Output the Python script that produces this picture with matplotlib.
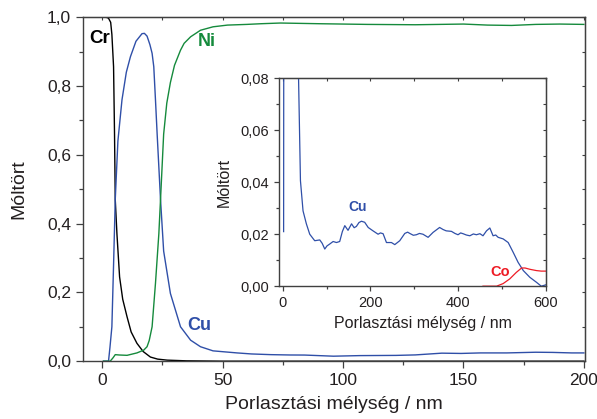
import matplotlib.pyplot as plt
from matplotlib.ticker import MultipleLocator, FuncFormatter

plt.rcParams['font.family'] = ['Liberation Sans', 'DejaVu Sans']

# main plot: depth profile 0-200 nm
cr_x = [0, 1, 2, 2.6, 3.5, 4.0, 4.7, 5.1, 5.4, 6.1, 7.2, 8.5, 10.3, 12, 14.4, 17, 20, 23, 27, 35, 50, 100, 200]
cr_y = [1.0, 1.0, 0.999, 0.997, 0.985, 0.95, 0.856, 0.66, 0.47, 0.37, 0.245, 0.18, 0.129, 0.085, 0.052,
        0.028, 0.012, 0.006, 0.003, 0.001, 0.0, 0.0, 0.0]

cu_x = [0.5, 2.6, 3.2, 4.0, 4.7, 5.4, 6.5, 8.2, 10, 11.7, 14, 16.5, 17.5, 18.6, 19.8, 20.7, 21.4, 22.1, 22.8,
        23.5, 24.2, 25.5, 28.3, 32.5, 36.7, 40.8, 46, 56, 62, 70, 78, 84, 96, 107, 122, 130, 141, 149, 157,
        168, 180, 187, 195, 200]
cu_y = [0.0, 0.0, 0.04, 0.1, 0.28, 0.47, 0.64, 0.76, 0.84, 0.885, 0.93, 0.952, 0.953, 0.945, 0.92, 0.895,
        0.856, 0.76, 0.66, 0.565, 0.47, 0.32, 0.197, 0.1, 0.061, 0.042, 0.03, 0.024, 0.021, 0.019, 0.018,
        0.0178, 0.0145, 0.0162, 0.0168, 0.0182, 0.0233, 0.0225, 0.024, 0.024, 0.026, 0.0255, 0.024, 0.024]

ni_x = [0.5, 3.3, 4.5, 5.4, 7, 10.3, 14.4, 17.2, 18.6, 19.5, 20.7, 22.1, 23.5, 24.2, 25.5, 26.8, 28.3, 30,
        32.5, 34, 36.7, 40.8, 46, 52, 60, 66, 74, 90, 110, 130, 150, 160, 170, 180, 190, 200]
ni_y = [0.0, 0.0, 0.01, 0.019, 0.018, 0.017, 0.024, 0.032, 0.042, 0.06, 0.1, 0.226, 0.37, 0.47, 0.66, 0.75,
        0.81, 0.86, 0.904, 0.924, 0.943, 0.962, 0.972, 0.977, 0.979, 0.981, 0.983, 0.981, 0.979, 0.978,
        0.980, 0.977, 0.976, 0.979, 0.980, 0.979]

# inset: 0-600 nm, low concentrations
cu_deep_x = [2, 2.3, 35, 40.4, 46.3, 53.9, 61.6, 73, 84.5, 90, 95.9, 101, 107, 115, 122.6, 130, 136, 141.6,
             149, 157, 163, 168, 174, 179.6, 187, 195, 206, 217.6, 223, 229, 236.7, 248, 255.7, 267, 278.5,
             285, 290, 298, 305, 312, 320, 331.7, 343, 358, 366, 373, 385, 393, 400, 406, 411.5, 419, 427,
             435, 442, 450, 457, 465, 472.6, 480, 486, 491.6, 503, 514.5, 526, 537, 549, 564, 579, 590, 600]
cu_deep_y = [0.021, 0.09, 0.09, 0.0406, 0.029, 0.024, 0.020, 0.0175, 0.0178, 0.0165, 0.0143, 0.0155,
             0.0162, 0.0172, 0.0168, 0.0172, 0.021, 0.0233, 0.0215, 0.024, 0.0225, 0.023, 0.0245, 0.025,
             0.0246, 0.0226, 0.0213, 0.020, 0.0205, 0.0202, 0.0168, 0.0168, 0.016, 0.0175, 0.0203, 0.0208,
             0.0203, 0.0196, 0.0198, 0.0203, 0.020, 0.0188, 0.0207, 0.0226, 0.0218, 0.0213, 0.0211, 0.0203,
             0.0198, 0.0205, 0.0202, 0.0197, 0.0194, 0.0201, 0.0198, 0.0202, 0.0194, 0.0213, 0.0224, 0.0194,
             0.0197, 0.0188, 0.0182, 0.0168, 0.013, 0.0092, 0.006, 0.0034, 0.0015, 0.0, 0.0005]

co_x = [457, 488, 503, 518, 533, 545, 553, 564, 579, 590, 600]
co_y = [0.0, 0.0, 0.001, 0.0028, 0.0053, 0.007, 0.007, 0.0065, 0.006, 0.0058, 0.0058]

txt = '#231f20'
sp = '#404040'
c_cr, c_cu, c_ni, c_co = 'black', '#2f4fa8', '#158a3c', '#ee1c25'

comma = FuncFormatter(lambda v, p: ('%.1f' % v).replace('.', ','))
comma2 = FuncFormatter(lambda v, p: ('%.2f' % v).replace('.', ','))


def style_axes(a, xmaj, xmin, ymaj, ymin, fs, lmaj, lmin):
    for s in a.spines.values():
        s.set_color(sp)
        s.set_linewidth(1.0)
    a.xaxis.set_major_locator(MultipleLocator(xmaj))
    a.xaxis.set_minor_locator(MultipleLocator(xmin))
    a.yaxis.set_major_locator(MultipleLocator(ymaj))
    a.yaxis.set_minor_locator(MultipleLocator(ymin))
    a.tick_params(which='major', direction='out', length=lmaj, width=0.9, color=sp,
                  labelsize=fs, labelcolor=txt)
    a.tick_params(which='minor', direction='out', length=lmin, width=0.9, color=sp)
    top = a.secondary_xaxis('top')
    top.xaxis.set_major_locator(MultipleLocator(xmaj))
    top.xaxis.set_minor_locator(MultipleLocator(xmin))
    top.tick_params(which='both', direction='in', length=2.5, width=0.8, color=sp, labeltop=False)
    right = a.secondary_yaxis('right')
    right.yaxis.set_major_locator(MultipleLocator(ymaj))
    right.yaxis.set_minor_locator(MultipleLocator(ymin))
    right.tick_params(which='both', direction='in', length=2.5, width=0.8, color=sp, labelright=False)


fig = plt.figure(figsize=(5.97, 4.19), dpi=100)
ax = fig.add_axes([0.139, 0.138, 0.841, 0.821])

ax.plot(cr_x, cr_y, color=c_cr, lw=1.0)
ax.plot(cu_x, cu_y, color=c_cu, lw=1.0)
ax.plot(ni_x, ni_y, color=c_ni, lw=1.0)

ax.set_xlim(-8, 200.5)
ax.set_ylim(0, 1)
style_axes(ax, 50, 25, 0.2, 0.1, 12.5, 5, 3.2)
ax.yaxis.set_major_formatter(comma)
ax.set_xlabel('Porlasztási mélység / nm', fontsize=14, color=txt, labelpad=6)
ax.set_ylabel('Móltört', fontsize=14, color=txt, labelpad=14)

ax.text(-1.2, 0.937, 'Cr', color=c_cr, fontsize=13.5, fontweight='bold', ha='center', va='center')
ax.text(43.3, 0.928, 'Ni', color=c_ni, fontsize=13, fontweight='bold', ha='center', va='center')
ax.text(40.1, 0.105, 'Cu', color=c_cu, fontsize=13, fontweight='bold', ha='center', va='center')

ins = fig.add_axes([0.467, 0.317, 0.447, 0.496])
ins.plot(cu_deep_x, cu_deep_y, color=c_cu, lw=0.9)
ins.plot(co_x, co_y, color=c_co, lw=0.9)
ins.set_xlim(-9, 600)
ins.set_ylim(0, 0.08)
style_axes(ins, 200, 100, 0.02, 0.01, 10.5, 3.5, 2)
ins.yaxis.set_major_formatter(comma2)
ins.set_xlabel('Porlasztási mélység / nm', fontsize=11.5, color=txt)
ins.xaxis.set_label_coords(0.54, -0.145)
ins.set_ylabel('Móltört', fontsize=11.5, color=txt, labelpad=6)
ins.text(170, 0.0306, 'Cu', color=c_cu, fontsize=10, fontweight='bold', ha='center', va='center')
ins.text(496, 0.0053, 'Co', color=c_co, fontsize=10.5, fontweight='bold', ha='center', va='center')

fig.savefig('out.png', dpi=100)
